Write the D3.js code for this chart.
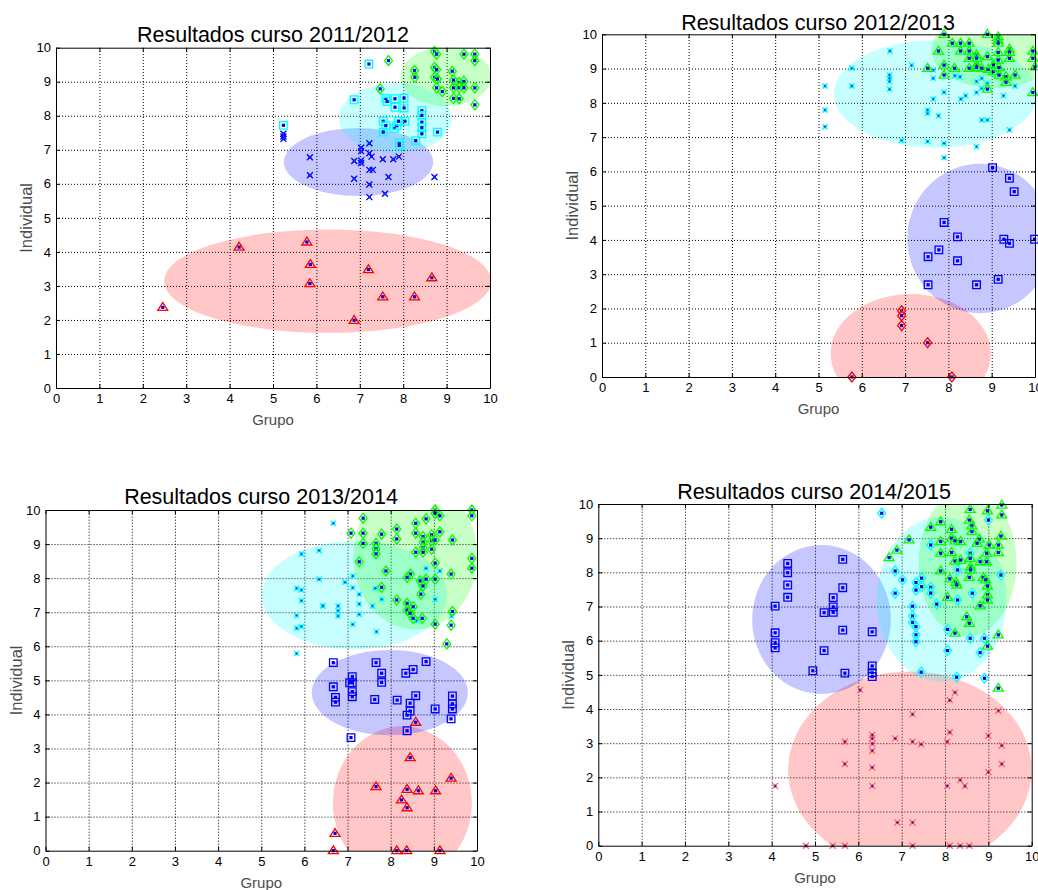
<!DOCTYPE html>
<html>
<head>
<meta charset="utf-8">
<script src="https://cdn.jsdelivr.net/npm/d3@7"></script>
<style>
body { margin: 0; background: #fff; }
svg { font-family: "Liberation Sans", Arial, sans-serif; }
</style>
</head>
<body>
<script>
// ---- data ----
const ticks = [0, 1, 2, 3, 4, 5, 6, 7, 8, 9, 10]
const titles = ["Resultados curso 2011/2012", "Resultados curso 2012/2013",
                "Resultados curso 2013/2014", "Resultados curso 2014/2015"]
const xLabel = "Grupo"
const yLabel = "Individual"

// ellipses per panel: [centre x, centre y, radius x, radius y] in grade units
const ell1 = { red: [6.26, 3.14, 3.77, 1.52], blue: [6.97, 6.64, 1.72, 1.0], cyan: [7.82, 7.93, 1.30, 1.03], green: [8.98, 9.15, 1.05, 0.87] }
const ell2 = { red: [7.13, 0.69, 1.85, 1.73], blue: [8.73, 4.04, 1.68, 2.18], cyan: [7.70, 8.26, 2.35, 1.57], green: [9.07, 9.55, 1.46, 1.12] }
const ell3 = { red: [8.27, 1.40, 1.61, 2.25], blue: [7.98, 4.64, 1.81, 1.25], cyan: [7.16, 7.50, 2.15, 1.59], green: [8.57, 8.64, 1.44, 2.15] }
const ell4 = { red: [7.19, 2.22, 2.81, 2.88], blue: [5.15, 6.62, 1.60, 2.18], cyan: [7.92, 7.21, 1.50, 2.41], green: [8.52, 8.27, 1.13, 2.15] }

// 2011/2012
const red1 = [[2.46,2.37],[4.22,4.14],[5.78,4.29],[5.86,3.63],[5.85,3.07],[7.20,3.48],[8.66,3.24],[7.53,2.68],[8.26,2.68],[6.87,1.99]]
const blue1 = [[5.24,7.47],[5.24,7.39],[5.24,7.32],[7.03,7.06],[7.03,6.96],[7.22,7.19],[7.22,6.90],[7.27,6.80],[5.85,6.78],[6.87,6.67],[7.03,6.69],[7.03,6.61],[7.53,6.72],[7.77,6.72],[7.90,6.80],[7.22,6.41],[7.30,6.41],[5.85,6.25],[6.87,6.15],[7.66,6.20],[8.72,6.20],[7.22,5.98],[7.58,5.71],[7.22,5.61]]
const cyan1 = [[7.21,9.52],[6.87,8.47],[7.60,8.51],[7.63,8.42],[7.81,8.50],[8.02,8.52],[7.81,8.25],[8.02,8.23],[8.43,8.15],[8.43,8.01],[8.43,7.81],[8.43,7.65],[8.43,7.47],[8.79,7.52],[7.54,7.84],[7.60,7.71],[7.79,7.63],[7.85,7.71],[7.89,7.84],[8.04,7.84],[7.54,7.52],[8.29,7.27],[7.91,7.21],[7.91,7.13],[5.24,7.72]]
const green1 = [[8.72,9.89],[8.77,9.81],[9.40,9.81],[9.65,9.81],[7.66,9.62],[9.65,9.62],[8.26,9.33],[8.27,9.13],[8.72,9.42],[8.77,9.35],[8.72,9.13],[8.79,9.08],[9.13,9.31],[9.16,9.05],[9.29,8.98],[9.40,9.01],[8.77,8.82],[8.90,8.71],[9.16,8.82],[9.29,8.82],[9.40,8.82],[9.65,8.82],[9.16,8.51],[9.29,8.50],[9.65,8.32],[7.47,8.79]]

// 2012/2013
const red2 = [[6.92,1.93],[6.92,1.79],[6.92,1.50],[7.52,1.00],[5.77,0],[8.08,0]]
const blue2 = [[9.02,6.11],[9.41,5.80],[9.52,5.41],[7.90,4.51],[8.21,4.09],[9.28,4.02],[9.41,3.90],[9.99,4.02],[7.78,3.71],[7.53,3.51],[8.21,3.39],[7.53,2.69],[8.65,2.69],[9.15,2.85]]
const cyan2 = [[6.65,9.51],[5.77,9.01],[7.15,9.10],[6.64,8.81],[6.64,8.72],[6.64,8.62],[6.64,8.40],[5.15,8.49],[5.77,8.49],[7.65,8.96],[7.65,8.72],[8.15,8.79],[8.27,8.76],[8.65,8.62],[8.77,8.72],[8.77,8.42],[8.65,8.30],[8.90,8.57],[9.27,8.21],[9.54,8.49],[7.90,8.31],[8.40,8.21],[8.29,8.11],[7.65,8.11],[5.15,7.79],[7.52,7.79],[7.52,7.69],[7.77,7.62],[5.15,7.30],[8.77,7.50],[8.90,7.50],[9.41,7.21],[6.92,6.90],[7.52,6.87],[7.90,6.82],[8.65,6.72],[7.90,6.40]]
const green2 = [[7.90,10.0],[8.90,10.0],[9.15,9.93],[9.15,9.83],[9.15,9.74],[8.09,9.74],[8.28,9.74],[8.48,9.74],[7.77,9.51],[8.28,9.51],[8.48,9.51],[9.15,9.47],[9.41,9.57],[9.41,9.47],[8.65,9.40],[8.48,9.30],[8.65,9.30],[8.90,9.35],[9.15,9.25],[9.41,9.30],[9.95,9.51],[9.95,9.30],[10.0,9.05],[7.52,9.01],[7.90,9.10],[8.14,9.01],[7.90,8.81],[8.48,9.01],[8.65,9.10],[8.65,9.03],[8.77,9.01],[8.92,8.98],[9.04,9.10],[9.04,8.91],[9.17,9.03],[9.17,8.81],[9.33,8.76],[9.54,8.81],[9.33,8.60],[8.90,8.40],[9.95,8.30]]

// 2013/2014
const red3 = [[8.58,3.77],[8.45,2.73],[9.40,2.13],[7.66,1.88],[8.38,1.80],[8.64,1.76],[9.04,1.76],[8.25,1.49],[8.38,1.26],[6.71,0.51],[6.67,0],[8.14,0],[8.37,0],[9.14,0]]
const blue3 = [[6.67,5.52],[7.66,5.52],[8.82,5.55],[8.52,5.32],[8.35,5.21],[7.11,5.11],[7.11,4.93],[7.05,4.93],[7.79,5.21],[7.79,4.94],[6.67,4.81],[7.11,4.67],[7.11,4.52],[6.72,4.50],[6.72,4.36],[7.63,4.44],[8.15,4.42],[8.58,4.55],[8.45,4.33],[8.45,4.10],[8.38,3.98],[9.03,4.16],[9.43,4.54],[9.43,4.31],[9.43,4.16],[9.40,3.87],[8.38,3.52],[7.08,3.32]]
const cyan3 = [[5.93,8.71],[6.34,8.81],[6.34,7.97],[5.82,7.70],[5.93,7.65],[5.93,7.34],[6.42,7.19],[5.82,6.90],[5.82,6.53],[5.93,6.58],[5.82,5.79],[6.67,9.61],[6.94,7.88],[7.12,8.06],[7.12,7.72],[7.27,7.53],[6.43,7.18],[6.78,7.18],[6.78,7.04],[6.78,6.89],[7.27,7.24],[7.27,6.94],[7.58,7.18],[7.79,7.38],[7.64,7.70],[7.12,6.64],[7.67,6.43],[8.82,8.29],[9.14,8.21],[9.03,7.38],[8.60,6.75],[9.41,6.89]]
const green3 = [[9.03,10.0],[9.03,9.9],[9.88,10.0],[9.88,9.83],[9.14,9.83],[7.36,9.76],[8.82,9.74],[8.58,9.61],[7.08,9.32],[7.36,9.32],[7.79,9.29],[8.14,9.44],[8.14,9.15],[8.58,9.32],[8.75,9.22],[8.75,9.05],[8.75,8.89],[8.75,8.76],[8.95,9.27],[8.95,9.10],[8.95,8.85],[9.14,9.36],[9.03,9.12],[9.43,9.12],[7.36,9.02],[7.66,9.02],[7.66,8.86],[7.66,8.71],[8.58,8.76],[7.27,8.48],[9.03,8.44],[9.88,8.58],[9.88,8.29],[7.89,8.21],[9.40,8.12],[8.46,8.12],[8.38,8.02],[8.68,7.92],[8.82,7.97],[8.75,7.77],[9.03,7.97],[7.79,7.73],[8.70,7.53],[8.14,7.36],[8.38,7.26],[8.52,7.16],[8.38,7.06],[8.45,6.97],[8.52,6.82],[8.73,6.82],[9.43,7.02],[9.03,6.65],[9.40,6.62],[9.30,6.07]]

// 2014/2015
const red4 = [[6.04,4.56],[8.23,4.48],[8.11,4.26],[7.25,3.85],[9.23,3.95],[8.11,3.32],[6.32,3.24],[6.32,3.14],[6.32,2.98],[6.32,2.78],[6.85,3.14],[5.69,3.04],[7.25,3.04],[7.45,2.97],[8.05,3.04],[9.00,3.22],[9.31,2.93],[5.69,2.39],[6.32,2.29],[9.31,2.39],[9.00,2.15],[4.08,1.75],[6.32,1.75],[8.05,1.75],[8.35,1.92],[8.46,1.75],[6.90,0.68],[7.25,0.68],[4.79,0],[5.41,0],[5.69,0],[7.25,0],[8.11,0],[8.35,0],[8.56,0]]
const blue4 = [[4.37,8.26],[4.37,7.99],[4.37,7.63],[4.37,7.27],[4.08,7.01],[5.64,8.38],[5.64,7.55],[5.42,7.26],[5.42,6.99],[5.21,6.82],[5.42,6.83],[4.08,6.23],[4.08,5.94],[4.08,5.79],[5.64,6.31],[6.32,6.26],[5.21,5.71],[4.95,5.12],[5.69,5.05],[6.32,5.26],[6.32,5.06],[6.32,4.95]]
const cyan4 = [[6.54,9.73],[6.85,8.04],[7.02,7.78],[6.85,7.39],[7.33,7.70],[7.33,7.48],[7.46,7.83],[7.46,7.58],[7.67,7.56],[7.67,7.39],[7.81,7.07],[7.25,7.01],[7.25,6.72],[7.25,6.53],[7.33,6.41],[7.33,6.17],[7.33,5.97],[7.67,8.80],[8.29,8.07],[8.63,7.39],[8.29,7.19],[8.06,6.33],[8.58,6.07],[8.91,6.07],[8.06,5.71],[8.81,5.65],[7.45,5.08],[8.27,4.93],[8.91,4.90],[9.29,7.92],[9.00,9.53],[8.58,8.56]]
const green4 = [[9.31,9.97],[8.58,9.84],[8.98,9.80],[9.31,9.68],[7.90,9.48],[7.67,9.32],[8.56,9.53],[8.62,9.36],[8.62,9.19],[8.15,9.26],[7.17,8.95],[7.90,8.90],[8.15,9.00],[8.23,8.92],[8.36,8.90],[8.79,8.97],[8.74,8.85],[9.29,9.06],[9.02,8.80],[9.23,8.80],[9.23,8.58],[6.89,8.65],[6.71,8.43],[7.90,8.56],[8.15,8.58],[8.23,8.33],[8.36,8.36],[8.58,8.41],[8.81,8.31],[8.96,8.56],[8.96,8.31],[8.59,8.16],[8.59,8.07],[8.56,7.85],[7.90,8.04],[8.11,7.81],[8.25,7.71],[8.27,7.63],[8.88,7.85],[8.94,7.78],[8.98,7.60],[8.98,7.34],[8.98,7.19],[8.81,7.02],[8.06,7.27],[8.50,6.70],[8.56,6.51],[8.23,6.22],[9.23,6.17],[8.98,5.84],[9.23,4.61]]

// ---- drawing ----
const w = 1038
const h = 890

const colors = { red: "#ff0000", blue: "#0000ff", cyan: "#00ffff", green: "#00ff00", pink: "#ff6464" }
const fills = { red: "#ff0000", blue: "#0000ff", cyan: "#00ffff", green: "#00ff00" }

const shapes = {
  tri: "M0,-4.8L5,3H-5Z",
  diamond: "M0,-5L4,0L0,5L-4,0Z",
  square: "M-3.8,-3.8H3.8V3.8H-3.8Z",
  x: "M-3,-3L3,3M3,-3L-3,3",
  smallx: "M-2.6,-2.6L2.6,2.6M2.6,-2.6L-2.6,2.6"
}

const panels = [
  { x0: 56, x1: 490, y0: 388, y1: 47.7, tx: 273, ty: 41.5, ell: ell1,
    series: [[red1, "tri", "red"], [blue1, "x", "blue"], [cyan1, "square", "cyan"], [green1, "diamond", "green"]] },
  { x0: 602, x1: 1035, y0: 377, y1: 34.3, tx: 818, ty: 30, ell: ell2,
    series: [[red2, "diamond", "red"], [blue2, "square", "blue"], [cyan2, "smallx", "cyan"], [green2, "tri", "green"]] },
  { x0: 45.5, x1: 477, y0: 850.7, y1: 510, tx: 261, ty: 504, ell: ell3,
    series: [[red3, "tri", "red"], [blue3, "square", "blue"], [cyan3, "smallx", "cyan"], [green3, "diamond", "green"]] },
  { x0: 598.3, x1: 1031.7, y0: 845.7, y1: 504, tx: 814, ty: 499, ell: ell4,
    series: [[red4, "x", "pink"], [blue4, "square", "blue"], [cyan4, "diamond", "cyan"], [green4, "tri", "green"]] }
]

const svg = d3.select("body")
  .append("svg")
  .attr("width", w)
  .attr("height", h)

panels.forEach((p, i) => {
  const x = d3.scaleLinear().domain([0, 10]).range([p.x0, p.x1])
  const y = d3.scaleLinear().domain([0, 10]).range([p.y0, p.y1])
  const g = svg.append("g")

  g.append("clipPath").attr("id", "clip" + i)
    .append("rect")
    .attr("x", p.x0).attr("y", p.y1)
    .attr("width", p.x1 - p.x0).attr("height", p.y0 - p.y1)

  // dotted grid
  const gx = g.append("g")
    .attr("transform", "translate(0," + p.y0 + ")")
    .call(d3.axisBottom(x).tickValues(ticks.slice(1, -1)).tickSize(-(p.y0 - p.y1)).tickFormat(""))
  const gy = g.append("g")
    .attr("transform", "translate(" + p.x0 + ",0)")
    .call(d3.axisLeft(y).tickValues(ticks.slice(1, -1)).tickSize(-(p.x1 - p.x0)).tickFormat(""))
  ;[gx, gy].forEach(a => {
    a.select(".domain").remove()
    a.selectAll("line").attr("stroke", "#000").attr("stroke-dasharray", "1,2")
  })

  // cluster ellipses
  const el = g.append("g").attr("clip-path", "url(#clip" + i + ")")
  Object.keys(p.ell).forEach(k => {
    const e = p.ell[k]
    el.append("ellipse")
      .attr("cx", x(e[0]))
      .attr("cy", y(e[1]))
      .attr("rx", x(e[0] + e[2]) - x(e[0]))
      .attr("ry", y(e[1]) - y(e[1] + e[3]))
      .attr("fill", fills[k])
      .attr("fill-opacity", 0.22)
  })

  // points: outline marker plus the small blue centre mark
  p.series.forEach(s => {
    const m = g.append("g").selectAll("g")
      .data(s[0])
      .enter()
      .append("g")
      .attr("transform", d => "translate(" + x(d[0]) + "," + y(d[1]) + ")")
    const crossy = s[1] == "x" || s[1] == "smallx"
    if (crossy) {
      m.append("circle").attr("r", 1.5).attr("fill", "#0000e6")
    }
    m.append("path")
      .attr("d", shapes[s[1]])
      .attr("fill", "none")
      .attr("stroke", colors[s[2]])
      .attr("stroke-width", s[1] == "smallx" ? 1.5 : 1.3)
    if (!crossy) {
      m.append("rect")
        .attr("x", -1.6).attr("y", -1.6)
        .attr("width", 3.2).attr("height", 3.2)
        .attr("fill", "#0000e6")
    } else {
      m.append("circle").attr("r", 1).attr("fill", s[2] == "pink" ? "#5000a0" : "#0040ff")
    }
  })

  // box with inward ticks
  const bottom = g.append("g").attr("transform", "translate(0," + p.y0 + ")")
    .call(d3.axisBottom(x).tickValues(ticks).tickSizeInner(-4).tickSizeOuter(0).tickPadding(6))
  const left = g.append("g").attr("transform", "translate(" + p.x0 + ",0)")
    .call(d3.axisLeft(y).tickValues(ticks).tickSizeInner(-4).tickSizeOuter(0).tickPadding(5))
  const top = g.append("g").attr("transform", "translate(0," + p.y1 + ")")
    .call(d3.axisTop(x).tickValues(ticks).tickSizeInner(-4).tickSizeOuter(0).tickFormat(""))
  const right = g.append("g").attr("transform", "translate(" + p.x1 + ",0)")
    .call(d3.axisRight(y).tickValues(ticks).tickSizeInner(-4).tickSizeOuter(0).tickFormat(""))
  ;[bottom, left, top, right].forEach(a => {
    a.select(".domain").attr("stroke", "#000")
    a.selectAll("line").attr("stroke", "#000")
    a.selectAll("text").attr("font-size", 13).attr("fill", "#000")
      .attr("font-family", "Liberation Sans, Arial, sans-serif")
  })

  g.append("text")
    .attr("x", p.tx).attr("y", p.ty)
    .attr("text-anchor", "middle")
    .attr("font-size", 21.5)
    .text(titles[i])

  g.append("text")
    .attr("x", (p.x0 + p.x1) / 2).attr("y", p.y0 + 37)
    .attr("text-anchor", "middle")
    .attr("font-size", 15)
    .attr("fill", "#4d4d4d")
    .text(xLabel)

  g.append("text")
    .attr("transform", "translate(" + (p.x0 - 24) + "," + (p.y0 + p.y1) / 2 + ") rotate(-90)")
    .attr("text-anchor", "middle")
    .attr("font-size", 16.5)
    .attr("fill", "#4d4d4d")
    .text(yLabel)
})
</script>
</body>
</html>
